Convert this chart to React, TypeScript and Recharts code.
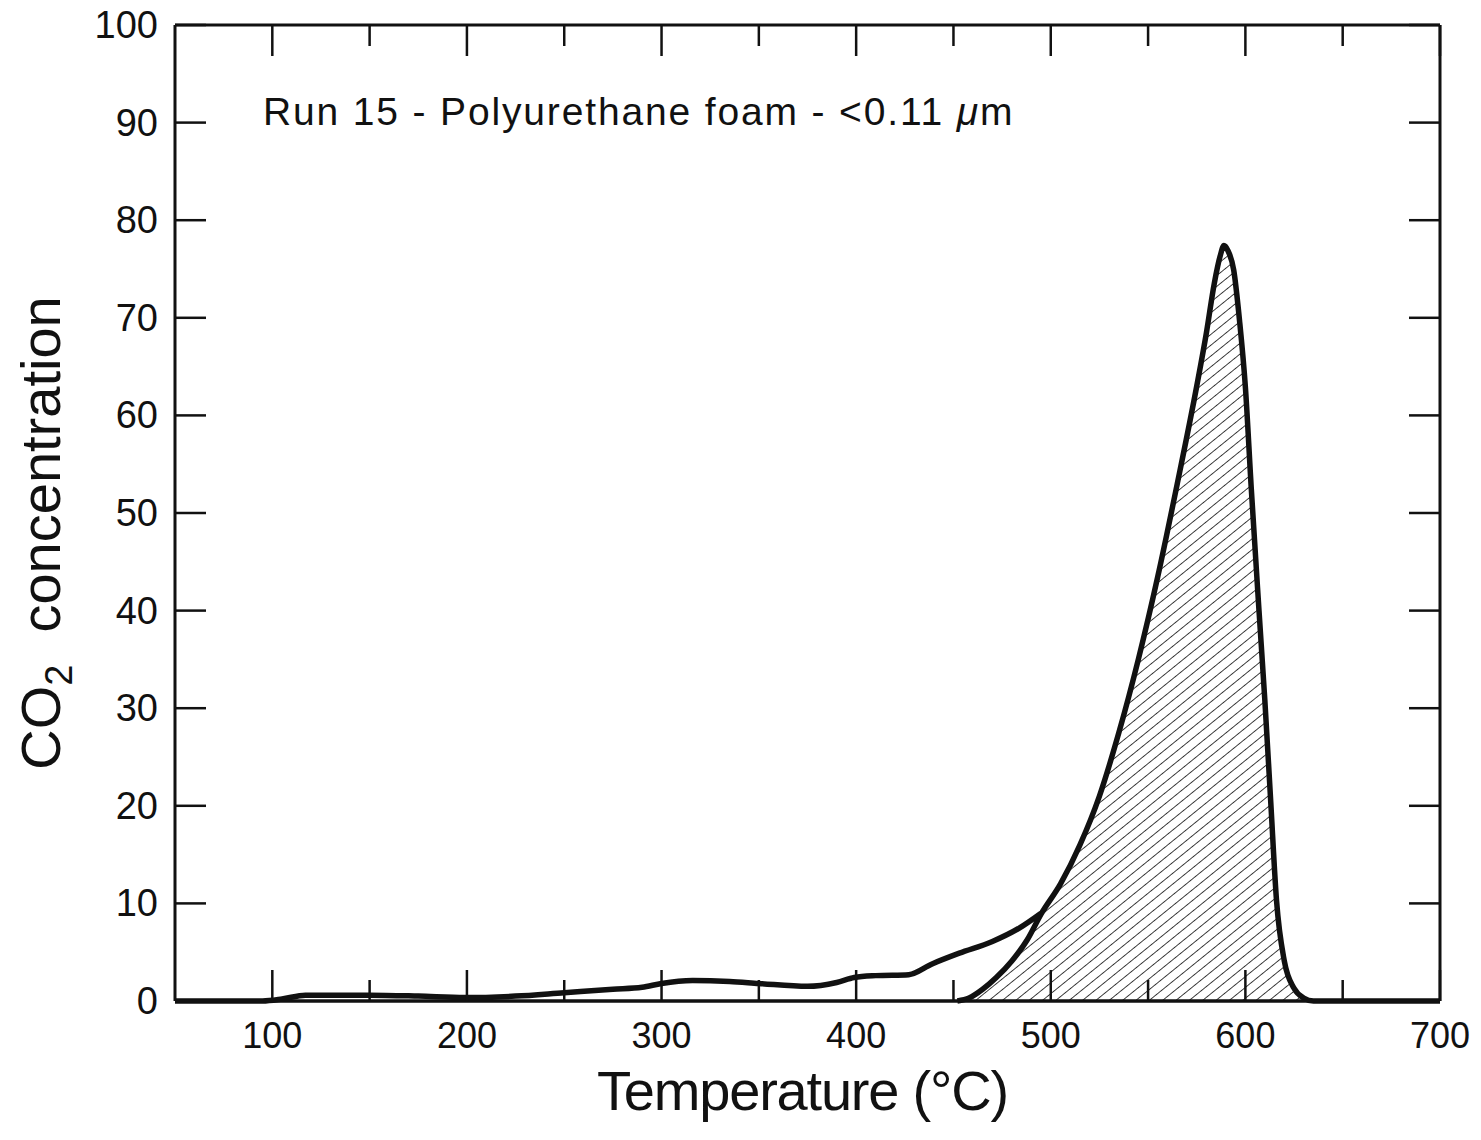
import { Area, ComposedChart, Label, Line, XAxis, YAxis } from "recharts";

// temperature (°C) vs CO2 concentration
const lowTemp = [50, 95, 105, 117, 150, 175, 199, 225, 250, 275, 290, 300, 316, 335, 350, 375, 390, 399, 410, 427, 439, 453, 470, 484, 495];
const lowCo2 = [0, 0, 0.2, 0.6, 0.6, 0.5, 0.35, 0.5, 0.85, 1.2, 1.4, 1.8, 2.1, 2.0, 1.8, 1.5, 1.9, 2.4, 2.6, 2.7, 3.8, 4.9, 6.1, 7.5, 9.0];

const peakTemp = [452, 458, 465, 472, 480, 488, 495, 505, 515, 525, 535, 545, 555, 565, 575, 580, 584, 587, 589, 591, 594, 597, 600, 603, 607, 610, 613, 616, 620, 625, 630, 635, 700];
const peakCo2 = [0, 0.3, 1.2, 2.4, 4.1, 6.3, 8.9, 12, 16, 21, 27.5, 35, 43.5, 53, 63, 68.5, 73.5, 76.3, 77.4, 76.9, 74.9, 69.7, 62.9, 52.6, 40, 30.8, 20.5, 10.3, 4.1, 1.3, 0.3, 0, 0];

const xTicks = [100, 150, 200, 250, 300, 350, 400, 450, 500, 550, 600, 650, 700];
const yTicks = [0, 10, 20, 30, 40, 50, 60, 70, 80, 90, 100];

const lowData = lowTemp.map((t, i) => ({ t, co2: lowCo2[i] }));
const peakData = peakTemp.map((t, i) => ({ t, co2: peakCo2[i] }));

const FONT = '"Liberation Sans", Arial, Helvetica, sans-serif';
const INK = "#111";
const MAJOR = 31;
const MINOR = 21;

function BottomTick(props: any) {
  const { x, y, payload } = props;
  const major = payload.value % 100 === 0;
  return (
    <g>
      <line x1={x} x2={x} y1={y} y2={y - (major ? MAJOR : MINOR)} stroke={INK} strokeWidth={2.5} />
      {major ? (
        <text x={x} y={y + 47} textAnchor="middle" fontSize={36} fontFamily={FONT} fill={INK}>
          {payload.value}
        </text>
      ) : null}
    </g>
  );
}

function TopTick(props: any) {
  const { x, y, payload } = props;
  const major = payload.value % 100 === 0;
  return <line x1={x} x2={x} y1={y} y2={y + (major ? MAJOR : MINOR)} stroke={INK} strokeWidth={2.5} />;
}

function LeftTick(props: any) {
  const { x, y, payload } = props;
  return (
    <g>
      <line x1={x} x2={x + MAJOR} y1={y} y2={y} stroke={INK} strokeWidth={2.5} />
      <text x={x - 17} y={y + 13} textAnchor="end" fontSize={38} fontFamily={FONT} fill={INK}>
        {payload.value}
      </text>
    </g>
  );
}

function RightTick(props: any) {
  const { x, y } = props;
  return <line x1={x} x2={x - MAJOR} y1={y} y2={y} stroke={INK} strokeWidth={2.5} />;
}

export default function App() {
  return (
    <div style={{ width: 1473, height: 1140, marginTop: -8, background: "#fff" }}>
      <ComposedChart width={1473} height={1140} margin={{ top: 24, right: 40, bottom: 138, left: 166 }}>
        <defs>
          <pattern id="hatch" patternUnits="userSpaceOnUse" width={8.4} height={8.4} patternTransform="rotate(51)">
            <line x1={0} y1={0} x2={0} y2={8.4} stroke={INK} strokeWidth={1.6} />
          </pattern>
        </defs>
        <XAxis
          dataKey="t"
          type="number"
          domain={[50, 700]}
          ticks={xTicks}
          interval={0}
          height={1}
          tickSize={0}
          tickMargin={0}
          axisLine={{ stroke: INK, strokeWidth: 3.5 }}
          tickLine={false}
          tick={(p: any) => <BottomTick {...p} />}
          label={
            <Label
              content={(p: any) => {
                const vb = p.viewBox;
                return (
                  <text x={vb.x + vb.width / 2 - 5} y={vb.y + 109} textAnchor="middle" fontSize={56} letterSpacing={-1.2} fontFamily={FONT} fill={INK}>
                    Temperature (°C)
                  </text>
                );
              }}
            />
          }
        />
        <XAxis
          xAxisId="top"
          orientation="top"
          dataKey="t"
          type="number"
          domain={[50, 700]}
          ticks={xTicks}
          interval={0}
          height={1}
          tickSize={0}
          tickMargin={0}
          axisLine={{ stroke: INK, strokeWidth: 3 }}
          tickLine={false}
          tick={(p: any) => <TopTick {...p} />}
        />
        <YAxis
          type="number"
          domain={[0, 100]}
          ticks={yTicks}
          interval={0}
          width={1}
          tickSize={0}
          tickMargin={0}
          axisLine={{ stroke: INK, strokeWidth: 3 }}
          tickLine={false}
          tick={(p: any) => <LeftTick {...p} />}
          label={
            <Label
              content={(p: any) => {
                const vb = p.viewBox;
                const cx = 52;
                const cy = vb.y + vb.height / 2 + 20;
                return (
                  <text x={cx} y={cy} transform={`rotate(-90 ${cx} ${cy})`} textAnchor="middle" fontSize={56} fontFamily={FONT} fill={INK}>
                    CO
                    <tspan fontSize={38} dy={12}>2</tspan>
                    <tspan dy={-12} dx={32}>concentration</tspan>
                  </text>
                );
              }}
            />
          }
        />
        <YAxis
          yAxisId="r"
          orientation="right"
          type="number"
          domain={[0, 100]}
          ticks={yTicks}
          interval={0}
          width={1}
          tickSize={0}
          tickMargin={0}
          axisLine={{ stroke: INK, strokeWidth: 3 }}
          tickLine={false}
          tick={(p: any) => <RightTick {...p} />}
        />
        <Area
          data={peakData}
          dataKey="co2"
          type="monotone"
          stroke={INK}
          strokeWidth={5.5}
          fill="url(#hatch)"
          fillOpacity={1}
          dot={false}
          activeDot={false}
          isAnimationActive={false}
        />
        <Line
          data={lowData}
          dataKey="co2"
          type="monotone"
          stroke={INK}
          strokeWidth={5.5}
          dot={false}
          activeDot={false}
          isAnimationActive={false}
        />
        {/* invisible copy so the mirrored top/right axes get a scale */}
        <Line
          data={lowData}
          dataKey="co2"
          xAxisId="top"
          yAxisId="r"
          stroke="none"
          dot={false}
          activeDot={false}
          legendType="none"
          isAnimationActive={false}
        />
        <text x={255} y={125} fontSize={39} letterSpacing={1.85} fontFamily={FONT} fill={INK}>
          Run 15 - Polyurethane foam - &lt;0.11 <tspan fontStyle="italic">μ</tspan>m
        </text>
      </ComposedChart>
    </div>
  );
}
